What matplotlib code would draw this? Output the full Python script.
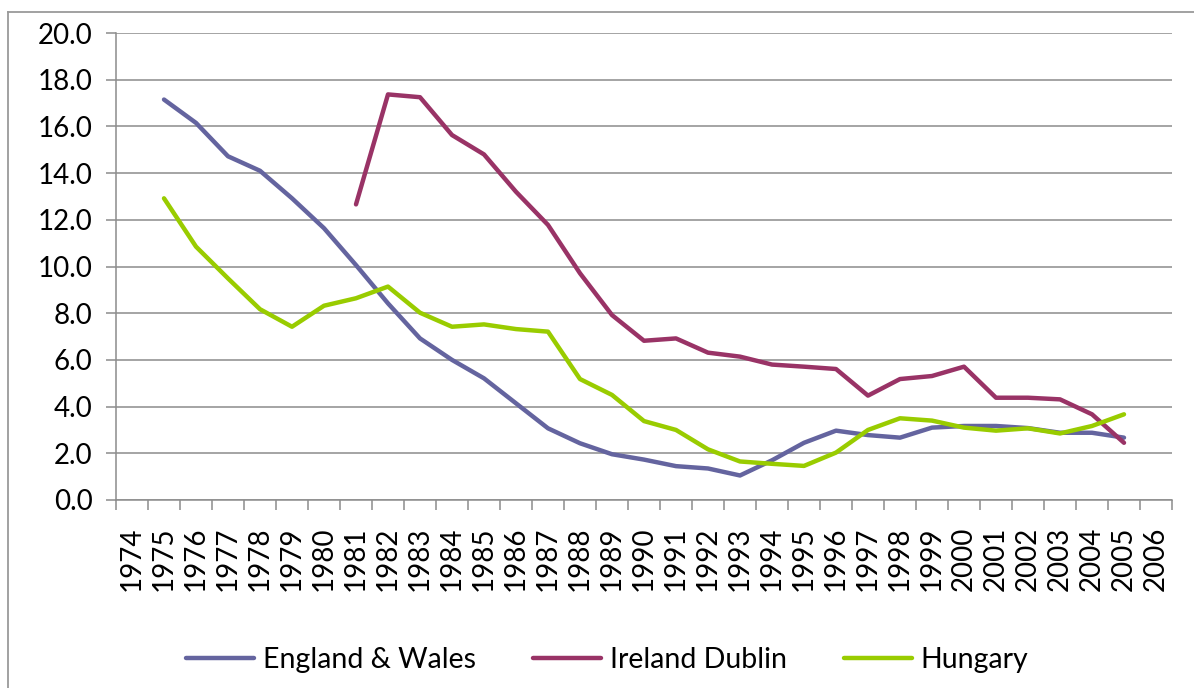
import numpy as np
import matplotlib
matplotlib.use("Agg")
import matplotlib.pyplot as plt
from matplotlib.lines import Line2D

years = list(range(1974, 2007))
nan = np.nan
england_wales = [nan, 17.15, 16.15, 14.72, 14.1, 12.92, 11.64, 10.06, 8.42, 6.92,
                 6.0, 5.21, 4.14, 3.07, 2.43, 1.96, 1.73, 1.45, 1.35, 1.05,
                 1.7, 2.45, 2.97, 2.78, 2.67, 3.1, 3.17, 3.17, 3.08, 2.88,
                 2.88, 2.67, nan]
ireland_dublin = [nan, nan, nan, nan, nan, nan, nan, 12.66, 17.37, 17.25,
                  15.63, 14.8, 13.2, 11.78, 9.71, 7.92, 6.82, 6.92, 6.31, 6.14,
                  5.8, 5.71, 5.61, 4.47, 5.18, 5.31, 5.71, 4.38, 4.38, 4.31,
                  3.67, 2.45, nan]
hungary = [nan, 12.92, 10.85, 9.49, 8.17, 7.42, 8.32, 8.64, 9.14, 8.02,
           7.42, 7.52, 7.32, 7.21, 5.18, 4.5, 3.38, 3.0, 2.17, 1.65,
           1.55, 1.46, 2.03, 3.0, 3.5, 3.4, 3.1, 2.97, 3.07, 2.85,
           3.17, 3.67, nan]
series_names = ["England & Wales", "Ireland Dublin", "Hungary"]
series_colors = ["#64649F", "#993366", "#99CC00"]
y_ticks = [0, 2, 4, 6, 8, 10, 12, 14, 16, 18, 20]

plt.rcParams['font.family'] = ['Lato', 'DejaVu Sans']

W, H = 1194, 688
fig = plt.figure(figsize=(W / 100, H / 100), dpi=100)

# outer chart frame (Excel style), top and left visible
frame_col = "#9A9A9A"
fig.add_artist(Line2D([8 / W, 1.0], [1 - 12 / H, 1 - 12 / H], transform=fig.transFigure,
                      color=frame_col, lw=1.3))
fig.add_artist(Line2D([8 / W, 8 / W], [0, 1 - 12 / H], transform=fig.transFigure,
                      color=frame_col, lw=1.3))

left, right, top, bottom = 116, 1172, 33, 500
ax = fig.add_axes([left / W, 1 - bottom / H, (right - left) / W, (bottom - top) / H])

x = np.arange(len(years))
handles = []
for vals, name, col in zip([england_wales, ireland_dublin, hungary], series_names, series_colors):
    h, = ax.plot(x, vals, color=col, lw=3.2, solid_capstyle='round',
                 solid_joinstyle='round', label=name, zorder=3)
    handles.append(h)

ax.set_xlim(-0.5, len(years) - 0.5)
ax.set_ylim(0, 20)
ax.set_yticks(y_ticks)
ax.set_yticklabels([f"{v:.1f}" for v in y_ticks], fontsize=20)
ax.set_xticks(x)
ax.set_xticklabels([str(y) for y in years], rotation=90, fontsize=20)
ax.set_xticks(np.arange(-0.5, len(years), 1.0), minor=True)

grid_col = "#8C8C8C"
ax.yaxis.grid(True, color=grid_col, lw=1.1, zorder=0)
ax.set_axisbelow(True)
for s in ["top", "right"]:
    ax.spines[s].set_visible(False)
for s in ["left", "bottom"]:
    ax.spines[s].set_color(grid_col)
    ax.spines[s].set_linewidth(1.1)

ax.tick_params(axis='x', which='major', length=0, pad=19)
ax.tick_params(axis='x', which='minor', length=7, color=grid_col, width=1.1)
ax.tick_params(axis='y', which='major', length=7, color=grid_col, width=1.1, pad=10)

fig.legend(handles=handles, loc='center', bbox_to_anchor=(607 / W, 1 - 660 / H),
           ncol=3, frameon=False, fontsize=20.5, handlelength=2.4, handletextpad=0.3,
           columnspacing=2.0)

fig.savefig("out.png", dpi=100)
